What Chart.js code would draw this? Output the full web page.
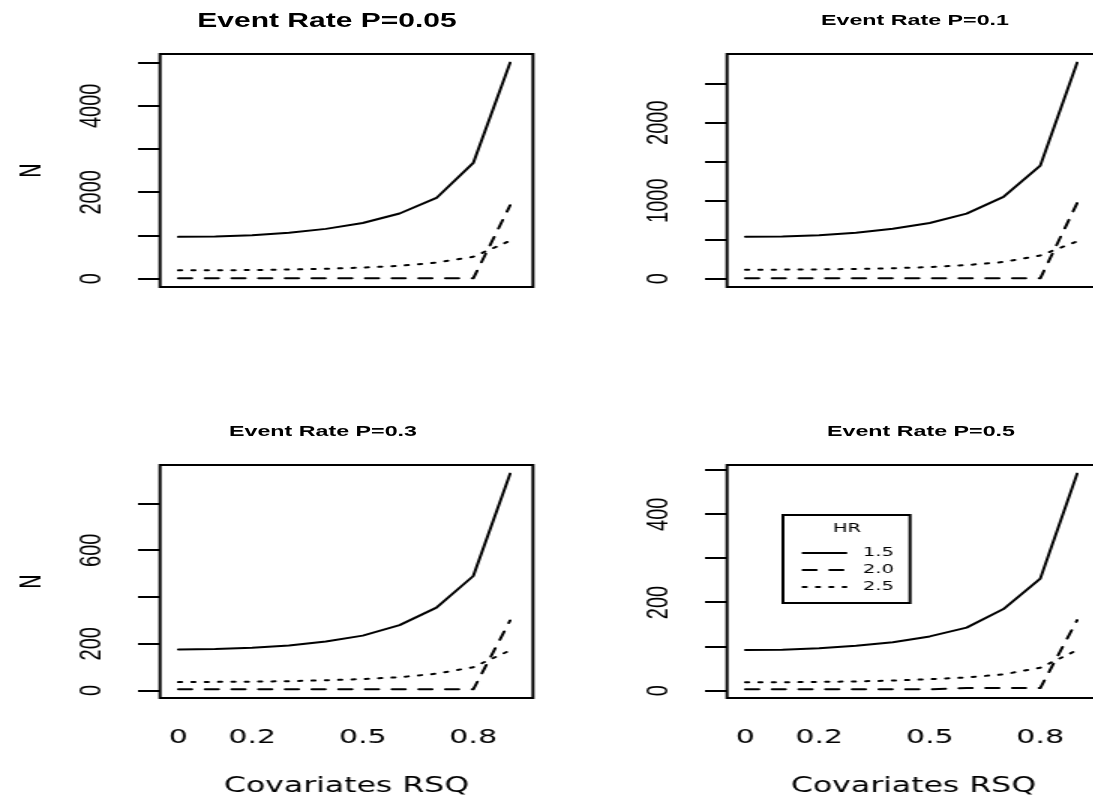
<!DOCTYPE html>
<html>
<head>
<meta charset="utf-8">
<script src="https://cdn.jsdelivr.net/npm/chart.js@4.4.0/dist/chart.umd.min.js"></script>
<style>
html, body { margin: 0; padding: 0; background: #fff; overflow: hidden; width: 1093px; height: 802px; }
#stage { position: absolute; left: 0; top: 0; transform-origin: 0 0; }
#stage canvas { position: absolute; }
.ptitle { position: absolute; font-family: "Liberation Sans", Arial, sans-serif; font-weight: bold;
  white-space: nowrap; transform: translate(-50%, -50%); color: #000; line-height: 1; }
</style>
</head>
<body>
<div id="stage"></div>
<script>
// sample size N against covariate R-squared, one panel per event rate
var rsq = [0, 0.1, 0.2, 0.3, 0.4, 0.5, 0.6, 0.7, 0.8, 0.9];
var hrLabels = ["1.5", "2.0", "2.5"];
var panelTitles = ["Event Rate P=0.05", "Event Rate P=0.1", "Event Rate P=0.3", "Event Rate P=0.5"];
var xTicks = [0, 0.2, 0.5, 0.8];
var xTickLabels = ["0", "0.2", "0.5", "0.8"];
var xTitle = "Covariates RSQ";
var yTitle = "N";
var legendTitle = "HR";

var n05_hr15 = [970, 980, 1010, 1065, 1155, 1290, 1510, 1870, 2680, 5000];
var n05_hr20 = [10, 10, 10, 10, 10, 10, 10, 10, 10, 1700];
var n05_hr25 = [195, 197, 203, 214, 232, 260, 300, 375, 510, 880];

var n10_hr15 = [538, 543, 558, 590, 640, 715, 835, 1050, 1450, 2770];
var n10_hr20 = [5, 5, 5, 5, 5, 5, 5, 5, 5, 970];
var n10_hr25 = [115, 117, 120, 126, 135, 150, 175, 215, 298, 480];

var n30_hr15 = [176, 178, 183, 193, 210, 235, 280, 355, 490, 928];
var n30_hr20 = [5, 5, 5, 5, 5, 5, 5, 5, 5, 300];
var n30_hr25 = [36, 37, 38, 40, 44, 49, 57, 72, 100, 172];

var n50_hr15 = [92, 93, 96, 102, 110, 123, 143, 185, 254, 492];
var n50_hr20 = [3, 3, 3, 3, 3, 3, 6, 6, 6, 160];
var n50_hr25 = [19, 19, 20, 21, 23, 26, 30, 37, 52, 92];

var yTicks05 = [0, 1000, 2000, 3000, 4000, 5000];
var yLabels05 = ["0", "", "2000", "", "4000", ""];
var yTicks10 = [0, 500, 1000, 1500, 2000, 2500];
var yLabels10 = ["0", "", "1000", "", "2000", ""];
var yTicks30 = [0, 200, 400, 600, 800];
var yLabels30 = ["0", "200", "", "600", ""];
var yTicks50 = [0, 100, 200, 300, 400, 500];
var yLabels50 = ["0", "", "200", "", "400", ""];

var panelSeries = [[n05_hr15, n05_hr20, n05_hr25], [n10_hr15, n10_hr20, n10_hr25],
                   [n30_hr15, n30_hr20, n30_hr25], [n50_hr15, n50_hr20, n50_hr25]];
var panelYTicks = [yTicks05, yTicks10, yTicks30, yTicks50];
var panelYLabels = [yLabels05, yLabels10, yLabels30, yLabels50];

// the picture is a horizontally stretched R plot: draw narrow, then stretch
var S = 1.5;
var PW = 567, PH = 411;                       // panel size (x in stretched px)
var BOX = { left: 160, right: 533, top: 54, bottom: 287 };
var TICK_LEN = 22, YLAB_X = 92, YTITLE_X = 32, XLAB_Y = 327, XTITLE_Y = 376;
var X_MIN = -0.050, X_MAX = 0.962;
var FONT = "'DejaVu Sans', sans-serif";
var YFONT = "'Liberation Sans', Arial, sans-serif";
var XLAB_SIZE = 20, XTITLE_SIZE = 21, YLAB_SIZE = 20, YTITLE_SIZE = 20;
var titlePos = [[327, 20, 20], [915, 20, 15.5], [323, 431, 15.5], [921, 431, 15.5]];
var LEG = { left: 216, right: 343, top: 104, bottom: 192, titleX: 280, titleY: 118,
            x1: 236, x2: 279, textX: 296, rows: [142, 159, 176], size: 13 };
var dashes = [[], [8.9, 8.9], [2.2, 6.7]];

Chart.defaults.font.family = FONT;
Chart.defaults.color = "#000";

var stage = document.getElementById("stage");
var pw = Math.round(PW / S);
stage.style.width = (2 * pw) + "px";
stage.style.height = (2 * PH) + "px";
stage.style.transform = "scaleX(" + S + ")";

var measure = document.createElement("canvas").getContext("2d");
measure.font = YLAB_SIZE + "px " + YFONT;

var boxPlugin = {
    id: "rbox",
    afterDraw: function (chart) {
        var a = chart.chartArea, ctx = chart.ctx;
        ctx.save();
        ctx.strokeStyle = "#000";
        ctx.lineWidth = 2;
        ctx.strokeRect(a.left, a.top, a.right - a.left, a.bottom - a.top);
        ctx.restore();
    }
};

var legendPlugin = {
    id: "rlegend",
    afterDraw: function (chart) {
        var ctx = chart.ctx;
        ctx.save();
        ctx.strokeStyle = "#000";
        ctx.lineWidth = 2;
        ctx.strokeRect(LEG.left / S, LEG.top, (LEG.right - LEG.left) / S, LEG.bottom - LEG.top);
        ctx.fillStyle = "#000";
        ctx.font = LEG.size + "px " + FONT;
        ctx.textBaseline = "middle";
        ctx.textAlign = "center";
        ctx.fillText(legendTitle, LEG.titleX / S, LEG.titleY);
        ctx.textAlign = "left";
        chart.data.datasets.forEach(function (ds, i) {
            var y = LEG.rows[i];
            ctx.setLineDash(ds.borderDash);
            ctx.lineCap = "round";
            ctx.beginPath();
            ctx.moveTo(LEG.x1 / S, y);
            ctx.lineTo(LEG.x2 / S, y);
            ctx.stroke();
            ctx.setLineDash([]);
            ctx.fillText(ds.label, LEG.textX / S, y);
        });
        ctx.restore();
    }
};

function makePanel(k) {
    var col = k % 2, row = Math.floor(k / 2);
    var bottomRow = row === 1, leftCol = col === 0;
    var canvas = document.createElement("canvas");
    canvas.width = pw;
    canvas.height = PH;
    canvas.style.left = (col * pw) + "px";
    canvas.style.top = (row * PH) + "px";
    stage.appendChild(canvas);

    var t = document.createElement("div");
    t.className = "ptitle";
    t.textContent = panelTitles[k];
    t.style.left = (col * pw + (titlePos[k][0] - col * PW) / S) + "px";
    t.style.top = titlePos[k][1] + "px";
    t.style.fontSize = titlePos[k][2] + "px";
    stage.appendChild(t);

    var series = panelSeries[k];
    var all = [].concat.apply([], series);
    var lo = Math.min.apply(null, all), hi = Math.max.apply(null, all);
    var pad = 0.04 * (hi - lo);
    var yTicks = panelYTicks[k], yLabels = panelYLabels[k];

    var widest = 0;
    yLabels.forEach(function (l) { widest = Math.max(widest, measure.measureText(l).width); });
    var tl = TICK_LEN / S;
    var yPad = BOX.left / S - tl - YLAB_X / S - widest / 2;

    var datasets = series.map(function (s, i) {
        return {
            label: hrLabels[i],
            data: rsq.map(function (x, j) { return { x: x, y: s[j] }; }),
            borderColor: "#000",
            borderWidth: 2,
            borderDash: dashes[i],
            borderCapStyle: "round",
            borderJoinStyle: "round",
            pointRadius: 0,
            tension: 0,
            fill: false
        };
    });

    return new Chart(canvas.getContext("2d"), {
        type: "line",
        data: { datasets: datasets },
        options: {
            responsive: false,
            animation: false,
            events: [],
            layout: { padding: { left: 0, top: BOX.top, right: (PW - BOX.right) / S, bottom: 0 } },
            plugins: { legend: { display: false }, tooltip: { enabled: false }, title: { display: false } },
            scales: {
                x: {
                    type: "linear",
                    min: X_MIN,
                    max: X_MAX,
                    afterBuildTicks: function (sc) { sc.ticks = xTicks.map(function (v) { return { value: v }; }); },
                    afterFit: function (sc) { sc.height = PH - BOX.bottom; },
                    grid: { display: false, drawTicks: false },
                    border: { display: false },
                    ticks: {
                        display: bottomRow,
                        autoSkip: false,
                        maxRotation: 0,
                        padding: XLAB_Y - BOX.bottom - XLAB_SIZE * 0.6,
                        font: { size: XLAB_SIZE },
                        callback: function (v, i) { return xTickLabels[i]; }
                    },
                    title: {
                        display: bottomRow,
                        text: xTitle,
                        font: { size: XTITLE_SIZE },
                        padding: { top: 0, bottom: PH - XTITLE_Y - XTITLE_SIZE * 0.6 }
                    }
                },
                y: {
                    type: "linear",
                    min: lo - pad,
                    max: hi + pad,
                    afterBuildTicks: function (sc) { sc.ticks = yTicks.map(function (v) { return { value: v }; }); },
                    afterFit: function (sc) { sc.width = BOX.left / S; },
                    grid: { drawOnChartArea: false, drawTicks: true, tickLength: tl,
                            color: "#000", tickColor: "#000", lineWidth: 2, tickWidth: 2 },
                    border: { display: false },
                    ticks: {
                        autoSkip: false,
                        minRotation: 90,
                        maxRotation: 90,
                        crossAlign: "center",
                        padding: yPad,
                        font: { size: YLAB_SIZE, family: YFONT },
                        callback: function (v, i) { return yLabels[i]; }
                    },
                    title: {
                        display: leftCol,
                        text: yTitle,
                        font: { size: YTITLE_SIZE },
                        padding: { top: YTITLE_X / S - YTITLE_SIZE * 0.6, bottom: 0 }
                    }
                }
            }
        },
        plugins: k === 3 ? [boxPlugin, legendPlugin] : [boxPlugin]
    });
}

for (var k = 0; k < 4; k++) makePanel(k);
</script>
</body>
</html>
